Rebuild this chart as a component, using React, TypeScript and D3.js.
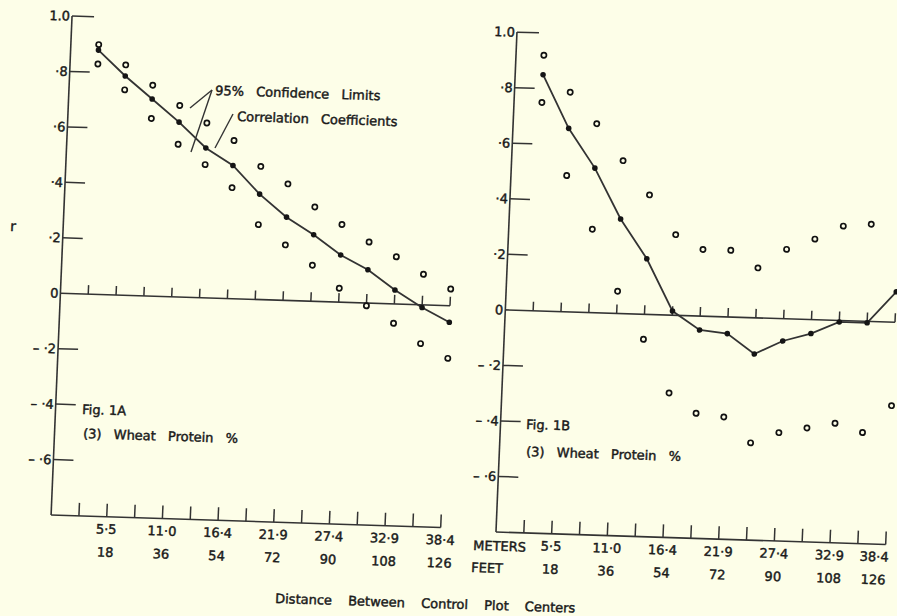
import React, { useEffect } from 'react';
import * as d3 from 'd3';

// distance between control plot centres (feet) for each plotted point
const feet = [9, 18, 27, 36, 45, 54, 63, 72, 81, 90, 99, 108, 117, 126];

// Fig. 1A
const corrA = [0.88, 0.79, 0.71, 0.63, 0.54, 0.48, 0.38, 0.30, 0.24, 0.17, 0.12, 0.05, -0.01, -0.06];
const upperA = [0.90, 0.83, 0.76, 0.69, 0.63, 0.57, 0.48, 0.42, 0.34, 0.28, 0.22, 0.17, 0.11, 0.06];
const lowerA = [0.83, 0.74, 0.64, 0.55, 0.48, 0.40, 0.27, 0.20, 0.13, 0.05, -0.01, -0.07, -0.14, -0.19];

// Fig. 1B
const corrB = [0.85, 0.66, 0.52, 0.34, 0.20, 0.015, -0.05, -0.06, -0.13, -0.08, -0.05, -0.005, -0.005, 0.11];
const upperB: (number | null)[] = [0.92, 0.79, 0.68, 0.55, 0.43, 0.29, 0.24, 0.24, 0.18, 0.25, 0.29, 0.34, 0.35, null];
const lowerB = [0.75, 0.49, 0.30, 0.08, -0.09, -0.28, -0.35, -0.36, -0.45, -0.41, -0.39, -0.37, -0.40, -0.30];

const yTicks = [1.0, 0.8, 0.6, 0.4, 0.2, 0, -0.2, -0.4, -0.6];
const yTickLabels = ['1.0', '·8', '·6', '·4', '·2', '0', '– ·2', '– ·4', '– ·6'];
const labelFeet = [18, 36, 54, 72, 90, 108, 126];
const meterLabels = ['5·5', '11·0', '16·4', '21·9', '27·4', '32·9', '38·4'];
const feetLabels = ['18', '36', '54', '72', '90', '108', '126'];

const W = 897;
const H = 616;
const BG = '#fdfee8';
const INK = '#1a1a1a';
const LINE = '#333333';
const FONT = '"DejaVu Sans", Verdana, sans-serif';
const TXT = { fill: INK, fontFamily: FONT, stroke: INK, strokeWidth: 0.45 };

// slight skew/rotation of the scanned page
const SK = { a: 1, b: 0.032, c: -0.042, d: 1, e: 12.94, f: -14.34 };
const inv = (X: number, Y: number): [number, number] => {
  const det = SK.a * SK.d - SK.b * SK.c;
  const x = X - SK.e;
  const y = Y - SK.f;
  return [(SK.d * x - SK.c * y) / det, (-SK.b * x + SK.a * y) / det];
};

type PanelProps = {
  x0: number; x1: number; yTop: number; yBot: number;
  corr: number[]; upper: (number | null)[]; lower: number[]; lastShift: number;
};

function Panel({ x0, x1, yTop, yBot, corr, upper, lower, lastShift }: PanelProps) {
  const x = d3.scaleLinear().domain([0, 126]).range([x0, x1]);
  const y = d3.scaleLinear().domain([-0.8, 1]).range([yBot, yTop]);
  const line = d3.line<number>().x((_, i) => x(feet[i])).y((d) => y(d));
  const y0 = y(0);
  const yb = y(-0.8);
  return (
    <g>
      {/* y axis */}
      <line x1={x0} y1={y(1)} x2={x0} y2={yb} stroke={LINE} strokeWidth={1.6} />
      {yTicks.map((t, i) => (
        <g key={'yt' + i}>
          {t !== 0 && (
            <line x1={x0} y1={y(t)} x2={x0 + (t === 1 ? 22 : 20)} y2={y(t)} stroke={LINE} strokeWidth={1.5} />
          )}
          <text x={x0 - 2} y={y(t)} dy="0.36em" textAnchor="end" fontSize={13} {...TXT}>
            {yTickLabels[i]}
          </text>
        </g>
      ))}
      {/* zero line */}
      <line x1={x0} y1={y0} x2={x(126)} y2={y0} stroke={LINE} strokeWidth={1.6} />
      {feet.map((f) => (
        <line key={'zt' + f} x1={x(f)} y1={y0} x2={x(f)} y2={y0 - 9} stroke={LINE} strokeWidth={1.5} />
      ))}
      {/* bottom axis */}
      <line x1={x0} y1={yb} x2={x(126)} y2={yb} stroke={LINE} strokeWidth={1.6} />
      {feet.map((f) => (
        <line key={'bt' + f} x1={x(f)} y1={yb} x2={x(f)} y2={yb - 13} stroke={LINE} strokeWidth={1.5} />
      ))}
      {labelFeet.map((f, i) => {
        const cx = x(f) - (i === labelFeet.length - 1 ? lastShift : 0);
        return (
          <g key={'bl' + f}>
            <text x={cx} y={yb + 17} textAnchor="middle" fontSize={13} {...TXT}>
              {meterLabels[i]}
            </text>
            <text x={cx} y={yb + 40} textAnchor="middle" fontSize={13} {...TXT}>
              {feetLabels[i]}
            </text>
          </g>
        );
      })}
      {/* correlation line */}
      <path d={line(corr) || ''} fill="none" stroke={LINE} strokeWidth={1.8} />
      {upper.map((v, i) =>
        v === null ? null : (
          <circle key={'u' + i} cx={x(feet[i])} cy={y(v)} r={2.6} fill={BG} stroke="#111" strokeWidth={1.7} />
        )
      )}
      {lower.map((v, i) => (
        <circle key={'l' + i} cx={x(feet[i])} cy={y(v)} r={2.6} fill={BG} stroke="#111" strokeWidth={1.7} />
      ))}
      {corr.map((v, i) => (
        <circle key={'c' + i} cx={x(feet[i])} cy={y(v)} r={2.8} fill="#151515" />
      ))}
    </g>
  );
}

function T({ at, children, ws = 0, size = 13 }: { at: [number, number]; children: React.ReactNode; ws?: number; size?: number }) {
  return (
    <text x={at[0]} y={at[1]} fontSize={size} {...TXT} style={{ wordSpacing: ws + 'px' }}>
      {children}
    </text>
  );
}

function L({ a, b }: { a: [number, number]; b: [number, number] }) {
  return <line x1={a[0]} y1={a[1]} x2={b[0]} y2={b[1]} stroke={LINE} strokeWidth={1.4} />;
}

export default function App() {
  useEffect(() => {
    document.body.style.margin = '0';
  }, []);
  return (
    <svg width={W} height={H} style={{ position: 'absolute', left: 0, top: 0, display: 'block' }}>
      <rect x={0} y={0} width={W} height={H} fill={BG} />
      <g transform={`matrix(${SK.a},${SK.b},${SK.c},${SK.d},${SK.e},${SK.f})`}>
        <Panel x0={60.3} x1={449.9} yTop={28.4} yBot={527.4} corr={corrA} upper={upperA} lower={lowerA} lastShift={0} />
        <Panel x0={505.3} x1={895} yTop={30.3} yBot={530.2} corr={corrB} upper={upperB} lower={lowerB} lastShift={11} />

        <T at={inv(10, 231)} size={14}>r</T>

        <T at={inv(215, 95)} ws={8}>95% Confidence Limits</T>
        <T at={inv(237, 121)} ws={8}>Correlation Coefficients</T>
        <L a={inv(212, 90)} b={inv(190, 108)} />
        <L a={inv(212, 90)} b={inv(191, 152)} />
        <L a={inv(233, 114)} b={inv(215, 148)} />

        <T at={inv(82, 414)}>Fig. 1A</T>
        <T at={inv(83, 438)} ws={8}>(3) Wheat Protein %</T>
        <T at={inv(526, 429)}>Fig. 1B</T>
        <T at={inv(526, 456)} ws={8}>(3) Wheat Protein %</T>

        <T at={inv(473, 550)}>METERS</T>
        <T at={inv(471, 572)}>FEET</T>

        <T at={inv(275, 603)} ws={12}>Distance Between Control Plot Centers</T>
      </g>
    </svg>
  );
}
